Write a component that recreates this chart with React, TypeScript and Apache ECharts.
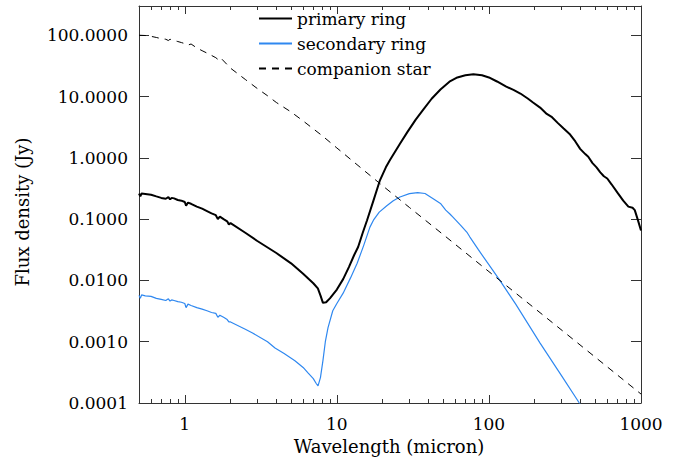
import React, { useEffect, useRef } from "react";
import * as echarts from "echarts";

// wavelength (micron), flux density (Jy)
const primaryRing: [number, number][] = [
  [0.5, 0.26], [0.51, 0.235], [0.52, 0.262], [0.55, 0.258], [0.6, 0.25], [0.65, 0.235], [0.7, 0.222],
  [0.75, 0.215], [0.78, 0.228], [0.8, 0.21], [0.82, 0.222], [0.85, 0.218], [0.9, 0.205],
  [0.95, 0.2], [1.0, 0.19], [1.02, 0.165], [1.05, 0.186], [1.1, 0.178], [1.2, 0.16],
  [1.3, 0.148], [1.4, 0.135], [1.5, 0.124], [1.6, 0.116], [1.65, 0.1], [1.7, 0.11],
  [1.8, 0.1], [1.9, 0.092], [1.95, 0.082], [2.0, 0.086], [2.5, 0.06], [3, 0.044],
  [4, 0.028], [5, 0.019], [6, 0.0128], [7, 0.009], [7.5, 0.0074], [7.8, 0.0057],
  [8.1, 0.0043], [8.5, 0.0044], [9, 0.0051], [10, 0.0071], [11, 0.0105], [12, 0.0165],
  [13, 0.026], [13.8, 0.035], [14.8, 0.06], [15.8, 0.096], [17.4, 0.2], [19.2, 0.43],
  [21, 0.7], [22.4, 0.93], [26, 1.7], [29, 2.6], [33, 4.2], [37, 6.1], [42, 9.2], [48, 13],
  [55, 17.5], [62, 20.5], [70, 22.3], [79, 23], [90, 22.2], [100, 20.5], [113, 17.6],
  [130, 14.5], [145, 12.8], [161, 11.2], [180, 9.3], [195, 8.0], [217, 6.6], [240, 5.2],
  [260, 4.6], [282, 3.75], [310, 3.0], [342, 2.4], [370, 1.85], [398, 1.4], [430, 1.15],
  [450, 1.04], [480, 0.82], [510, 0.7], [540, 0.58], [570, 0.5], [600, 0.46], [640, 0.37],
  [700, 0.27], [764, 0.2], [826, 0.16], [880, 0.153], [910, 0.14], [950, 0.1], [1000, 0.065],
];

const secondaryRing: [number, number][] = [
  [0.5, 0.0057], [0.51, 0.0051], [0.52, 0.0058], [0.55, 0.0056], [0.6, 0.0055], [0.65, 0.0051],
  [0.7, 0.0049], [0.75, 0.0047], [0.78, 0.005], [0.8, 0.0046], [0.82, 0.0048], [0.85, 0.0047],
  [0.9, 0.0045], [0.95, 0.0044], [1.0, 0.0042], [1.02, 0.0036], [1.05, 0.0041], [1.1, 0.0039],
  [1.2, 0.0036], [1.3, 0.0034], [1.4, 0.0032], [1.5, 0.003], [1.6, 0.0029], [1.65, 0.0025],
  [1.7, 0.0027], [1.8, 0.0025], [1.9, 0.0023], [1.95, 0.0021], [2.0, 0.0021], [2.5, 0.0016],
  [2.77, 0.0014], [3.5, 0.001], [3.92, 0.00079], [4.5, 0.00064], [5.3, 0.00049], [6.0, 0.00038],
  [6.46, 0.00031], [7.0, 0.00025], [7.3, 0.00021], [7.52, 0.00019], [7.8, 0.00026],
  [8.1, 0.00049], [8.4, 0.001], [8.75, 0.0017], [9.4, 0.0032], [10, 0.0042], [11, 0.0062],
  [12.3, 0.011], [13.6, 0.019], [15, 0.037], [16.5, 0.074], [17.4, 0.096], [19, 0.13],
  [21.3, 0.165], [23.5, 0.2], [26, 0.23], [30, 0.26], [34, 0.27], [38, 0.262], [43, 0.215],
  [48, 0.18], [52, 0.14], [55.6, 0.12], [58, 0.108], [65, 0.08], [72, 0.06], [75, 0.051],
  [85, 0.032], [97, 0.02], [118, 0.01], [150, 0.0041], [217, 0.00095], [300, 0.00028],
  [393, 0.0001], [420, 0.00008],
];

const companionStar: [number, number][] = [
  [0.5, 100], [0.55, 99], [0.6, 96], [0.65, 92], [0.7, 88], [0.75, 86], [0.78, 82],
  [0.8, 86], [0.85, 82], [0.9, 79], [0.95, 76], [1.0, 73], [1.05, 69], [1.1, 72],
  [1.2, 62], [1.3, 56], [1.45, 49], [1.6, 43], [1.7, 38], [1.75, 41], [2.0, 29],
  [2.5, 19], [3.0, 13.5], [3.5, 10.3], [4.0, 8.0], [5.0, 5.6], [6.0, 4.0], [8.0, 2.3],
  [10, 1.45], [15, 0.63], [20, 0.35], [30, 0.155], [50, 0.056], [100, 0.0139],
  [200, 0.0035], [500, 0.00056], [1000, 0.00014],
];

const seriesNames = ["primary ring", "secondary ring", "companion star"];
const xMajorTicks = [1, 10, 100, 1000];
const xMinorTicks = [
  0.6, 0.7, 0.8, 0.9, 2, 3, 4, 5, 6, 7, 8, 9, 20, 30, 40, 50, 60, 70, 80, 90,
  200, 300, 400, 500, 600, 700, 800, 900,
];
const yMajorTicks = [0.0001, 0.001, 0.01, 0.1, 1, 10, 100];

const FONT = "DejaVu Serif";
const AXIS_COLOR = "#333";

export default function App() {
  const ref = useRef<HTMLDivElement>(null);

  useEffect(() => {
    if (!ref.current) return;
    const chart = echarts.init(ref.current, undefined, { renderer: "svg" });

    const baseX = {
      type: "log" as const,
      logBase: 10,
      min: 0.5,
      max: 1000,
      splitLine: { show: false },
      minorTick: { show: false },
      axisLine: { show: true, onZero: false, lineStyle: { color: AXIS_COLOR, width: 1 } },
    };
    const baseY = {
      type: "log" as const,
      logBase: 10,
      min: 0.0001,
      max: 300,
      splitLine: { show: false },
      axisLine: { show: true, onZero: false, lineStyle: { color: AXIS_COLOR, width: 1 } },
    };

    chart.setOption({
      animation: false,
      grid: { left: 139, right: 42, top: 6, bottom: 58, containLabel: false },
      legend: {
        orient: "vertical",
        left: 258,
        top: 10,
        padding: 0,
        itemWidth: 33,
        itemHeight: 17,
        itemGap: 8,
        data: seriesNames,
        itemStyle: { opacity: 0, color: "rgba(0,0,0,0)", borderWidth: 0 },
        textStyle: { fontFamily: FONT, fontSize: 17, color: "#000" },
      },
      xAxis: [
        {
          ...baseX,
          position: "bottom",
          axisTick: { inside: true, length: 8, customValues: xMajorTicks, lineStyle: { color: AXIS_COLOR } },
          axisLabel: {
            customValues: xMajorTicks,
            margin: 12,
            fontFamily: FONT,
            fontSize: 17,
            color: "#000",
            formatter: (v: number) => String(Number(v.toPrecision(6))),
          },
        },
        {
          ...baseX,
          position: "top",
          axisTick: { inside: true, length: 8, customValues: xMajorTicks, lineStyle: { color: AXIS_COLOR } },
          axisLabel: { show: false },
        },
        {
          ...baseX,
          position: "bottom",
          axisLine: { show: false },
          axisTick: { inside: true, length: 4, customValues: xMinorTicks, lineStyle: { color: AXIS_COLOR } },
          axisLabel: { show: false },
        },
        {
          ...baseX,
          position: "top",
          axisLine: { show: false },
          axisTick: { inside: true, length: 4, customValues: xMinorTicks, lineStyle: { color: AXIS_COLOR } },
          axisLabel: { show: false },
        },
      ],
      yAxis: [
        {
          ...baseY,
          position: "left",
          axisTick: { inside: true, length: 10, customValues: yMajorTicks, lineStyle: { color: AXIS_COLOR } },
          axisLabel: {
            customValues: yMajorTicks,
            margin: 11,
            fontFamily: FONT,
            fontSize: 17,
            color: "#000",
            formatter: (v: number) => v.toFixed(4),
          },
        },
        {
          ...baseY,
          position: "right",
          axisTick: { inside: true, length: 10, customValues: yMajorTicks, lineStyle: { color: AXIS_COLOR } },
          axisLabel: { show: false },
        },
      ],
      graphic: [
        {
          type: "text",
          x: 389,
          y: 446,
          style: {
            text: "Wavelength (micron)",
            fontFamily: FONT,
            fontSize: 18,
            fill: "#000",
            align: "center",
            verticalAlign: "middle",
          },
        },
        {
          type: "text",
          x: 22,
          y: 212,
          rotation: Math.PI / 2,
          style: {
            text: "Flux density (Jy)",
            fontFamily: FONT,
            fontSize: 18,
            fill: "#000",
            align: "center",
            verticalAlign: "middle",
          },
        },
      ],
      series: [
        {
          name: seriesNames[0],
          type: "line",
          xAxisIndex: 0,
          yAxisIndex: 0,
          data: primaryRing,
          symbol: "none",
          showSymbol: false,
          lineStyle: { color: "#000", width: 2 },
          itemStyle: { color: "#000" },
          clip: true,
        },
        {
          name: seriesNames[1],
          type: "line",
          xAxisIndex: 0,
          yAxisIndex: 0,
          data: secondaryRing,
          symbol: "none",
          showSymbol: false,
          lineStyle: { color: "#2f88f0", width: 1.2 },
          itemStyle: { color: "#2f88f0" },
          clip: true,
        },
        {
          name: seriesNames[2],
          type: "line",
          xAxisIndex: 0,
          yAxisIndex: 0,
          data: companionStar,
          symbol: "none",
          showSymbol: false,
          lineStyle: { color: "#000", width: 1, type: [7, 6] },
          itemStyle: { color: "#000" },
          clip: true,
        },
      ],
    });

    return () => chart.dispose();
  }, []);

  return (
    <div
      ref={ref}
      style={{ position: "fixed", left: 0, top: 0, width: 683, height: 461, background: "#fff" }}
    />
  );
}
